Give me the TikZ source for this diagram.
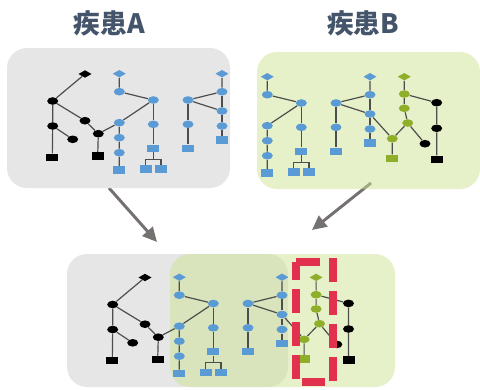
\documentclass[tikz,border=0pt]{standalone}
\usepackage{fontspec}
\newfontfamily\cjk{Noto Sans CJK JP}
\usetikzlibrary{shapes.geometric,arrows.meta}

\definecolor{nodeblue}{HTML}{5B9BD5}
\definecolor{nodegreen}{HTML}{8FAF2A}
\definecolor{linkgray}{HTML}{4D4D4D}
\definecolor{panelgray}{HTML}{E6E6E6}
\definecolor{panelgreen}{HTML}{CEE194}
\definecolor{flowgray}{HTML}{767171}
\definecolor{pickred}{HTML}{E2304F}
\definecolor{titleblue}{HTML}{44546A}

\tikzset{
  knot/.style={ellipse,fill=#1,minimum width=0.275cm,minimum height=0.19cm,inner sep=0pt},
  endbox/.style={rectangle,fill=#1,minimum width=0.3cm,minimum height=0.18cm,inner sep=0pt},
  kite/.style={diamond,fill=#1,minimum width=0.33cm,minimum height=0.19cm,inner sep=0pt},
  link/.style={draw=linkgray,line width=0.85pt},
  flow/.style={draw=flowgray,line width=2.1pt,-{Triangle[length=0.36cm,width=0.34cm]}},
  graypanel/.style={fill=panelgray,rounded corners=0.5cm},
  greenpanel/.style={fill=panelgreen,fill opacity=0.5,rounded corners=0.5cm},
  pick/.style={draw=pickred,line width=5.7pt,dash pattern=on 17pt off 6.4pt},
  title/.style={text=titleblue,font=\cjk\bfseries\fontsize{19}{22}\selectfont}
}

% black tree, left half of disease A
\newcommand{\blacktree}[1]{%
  \node[kite=black] (#1-d) at (85,74) {};
  \node[knot=black] (#1-n1) at (52.7,101) {};
  \node[knot=black] (#1-n2) at (85,120.7) {};
  \node[knot=black] (#1-n3) at (52.7,126) {};
  \node[knot=black] (#1-n4) at (72.7,139.3) {};
  \node[knot=black] (#1-n5) at (98.3,133.7) {};
  \node[endbox=black] (#1-s1) at (52.3,157.3) {};
  \node[endbox=black] (#1-s2) at (97.7,156) {};
  \draw[link] (#1-d) -- (#1-n1) -- (#1-n3) -- (#1-s1);
  \draw[link] (#1-n1) -- (#1-n2) -- (#1-n5) -- (#1-s2);
  \draw[link] (#1-n3) -- (#1-n4);
}

% the two blue trees
\newcommand{\bluetrees}[1]{%
  \node[kite=nodeblue] (#1-bd) at (119.3,73.7) {};
  \node[knot=nodeblue] (#1-b1) at (119.3,91.7) {};
  \node[knot=nodeblue] (#1-b2) at (153.3,100) {};
  \node[knot=nodeblue] (#1-b3) at (119.3,122.7) {};
  \node[knot=nodeblue] (#1-b4) at (119.3,137.7) {};
  \node[knot=nodeblue] (#1-b5) at (119.3,152.7) {};
  \node[endbox=nodeblue] (#1-bs1) at (119.3,170) {};
  \node[knot=nodeblue] (#1-b6) at (153.3,124.3) {};
  \node[endbox=nodeblue] (#1-bs2) at (153.3,148.3) {};
  \node[endbox=nodeblue] (#1-bs3) at (145.5,169) {};
  \node[endbox=nodeblue] (#1-bs4) at (161,169) {};
  \draw[link] (#1-bd) -- (#1-b1) -- (#1-b2) -- (#1-b3) -- (#1-b4) -- (#1-b5) -- (#1-bs1);
  \draw[link] (#1-b2) -- (#1-b6) -- (#1-bs2);
  \draw[link] (#1-bs2.south) -- ++(0,7) coordinate (#1-fork) -| (#1-bs3.north);
  \draw[link] (#1-fork) -| (#1-bs4.north);
  \node[knot=nodeblue] (#1-c1) at (188,100) {};
  \node[knot=nodeblue] (#1-c2) at (188,124.3) {};
  \node[endbox=nodeblue] (#1-cs1) at (188,148.3) {};
  \node[kite=nodeblue] (#1-cd) at (222,73.7) {};
  \node[knot=nodeblue] (#1-c3) at (222,91.7) {};
  \node[knot=nodeblue] (#1-c4) at (222,111) {};
  \node[knot=nodeblue] (#1-c5) at (222,126) {};
  \node[endbox=nodeblue] (#1-cs2) at (222,140) {};
  \draw[link] (#1-cd) -- (#1-c3) -- (#1-c1) -- (#1-c4);
  \draw[link] (#1-c3) -- (#1-c4) -- (#1-c5) -- (#1-cs2);
  \draw[link] (#1-c1) -- (#1-c2) -- (#1-cs1);
}

% green tree with its black branch, disease B
\newcommand{\greentree}[1]{%
  \node[kite=nodegreen] (#1-gd) at (404.3,76.7) {};
  \node[knot=nodegreen] (#1-g1) at (404.3,94) {};
  \node[knot=nodegreen] (#1-g2) at (404.3,108.3) {};
  \node[knot=nodegreen] (#1-g3) at (407.7,123) {};
  \node[knot=nodegreen] (#1-g4) at (392.3,138.7) {};
  \node[endbox=nodegreen] (#1-gs) at (392.3,158.3) {};
  \node[knot=black] (#1-k1) at (436.7,102.7) {};
  \node[knot=black] (#1-k2) at (436.7,128.3) {};
  \node[knot=black] (#1-k3) at (425,143.7) {};
  \node[endbox=black] (#1-ks) at (436.7,159.3) {};
  \draw[link] (#1-gd) -- (#1-g1) -- (#1-g2) -- (#1-g3) -- (#1-g4) -- (#1-gs);
  \draw[link] (#1-g1) -- (#1-k1) -- (#1-k2) -- (#1-ks);
  \draw[link] (#1-g3) -- (#1-k3);
}

\begin{document}
\begin{tikzpicture}[x=0.025cm,y=-0.025cm]
  \useasboundingbox (0,0) rectangle (480,389);

  % arrows first, the panels lie over their tails
  \coordinate (fromA) at (109,188);
  \coordinate (toA) at (157,242);
  \coordinate (fromB) at (371,183);
  \coordinate (toB) at (312,230);
  \draw[flow] (fromA) -- (toA);
  \draw[flow] (fromB) -- (toB);

  \fill[graypanel] (7,48) rectangle (230,188);
  \fill[greenpanel] (257,52) rectangle (480,189);
  \fill[graypanel] (67,254) rectangle (288,387);
  \fill[greenpanel] (170,254) rectangle (395,387);

  \node[title] (titleA) at (109.5,23) {疾患A};
  \node[title] (titleB) at (363,23) {疾患B};

  % disease A
  \blacktree{a}
  \bluetrees{a}
  \draw[link] (a-n5) -- (a-b3);

  % disease B
  \begin{scope}[shift={(148,3)}]
    \bluetrees{b}
  \end{scope}
  \greentree{b}
  \draw[link] (b-c4) -- (b-g4);

  % both together
  \begin{scope}[shift={(60,203.5)}]
    \blacktree{c}
    \bluetrees{c}
  \end{scope}
  \begin{scope}[shift={(-88.2,200.7)}]
    \greentree{c}
  \end{scope}
  \draw[link] (c-n5) -- (c-b3);
  \draw[link] (c-c4) -- (c-g4);

  \draw[pick] (296,262) -- (333,262) -- (333,382) -- (296,382) -- cycle;
\end{tikzpicture}
\end{document}
